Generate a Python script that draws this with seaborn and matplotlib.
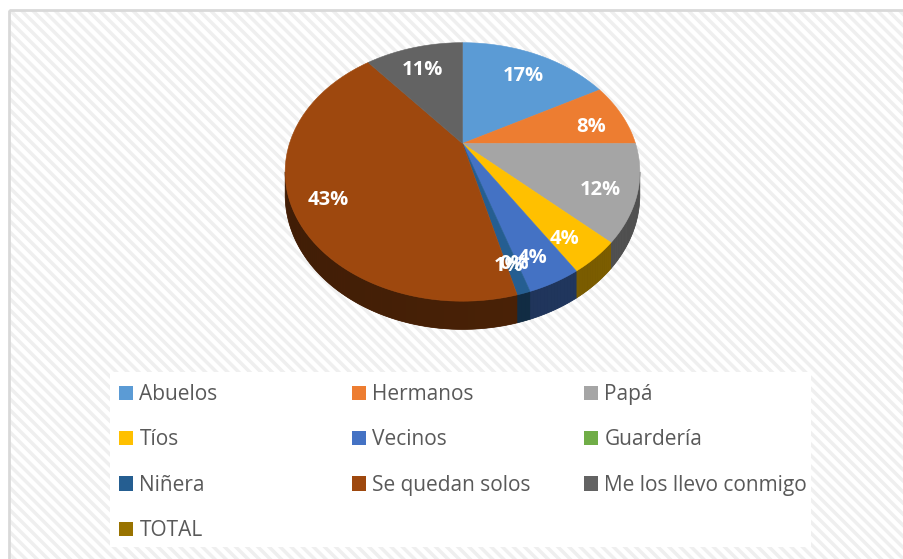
import numpy as np
import matplotlib
matplotlib.use("Agg")
import matplotlib.pyplot as plt
import matplotlib.colors as mcolors
from matplotlib.patches import Polygon, Rectangle, Patch
from matplotlib.collections import PolyCollection
import seaborn as sns

# data
categories = ["Abuelos", "Hermanos", "Papá", "Tíos", "Vecinos", "Guardería",
              "Niñera", "Se quedan solos", "Me los llevo conmigo", "TOTAL"]
percent = [17, 8, 12, 4, 4, 0, 1, 43, 11, 0]
show_label = [True, True, True, True, True, True, True, True, True, False]
colors = ["#5b9bd5", "#ed7d31", "#a5a5a5", "#ffc000", "#4472c4", "#70ad47",
          "#255e91", "#9e480e", "#636363", "#997300"]

sns.set_theme(style="white")
plt.rcParams['font.family'] = ['Open Sans', 'DejaVu Sans']
plt.rcParams['hatch.linewidth'] = 2.5

W, H = 904, 559
fig = plt.figure(figsize=(W / 100, H / 100), dpi=100, facecolor='white')
ax = fig.add_axes([0, 0, 1, 1])

# let matplotlib work out the slice angles, then redraw them in 3D
wedges, _ = ax.pie(percent, startangle=90, counterclock=False, colors=colors)
angles = [(w.theta1, w.theta2) for w in wedges]
for w in wedges:
    w.remove()

ax.set_aspect('auto')
ax.set_xlim(0, W)
ax.set_ylim(H, 0)
ax.axis('off')

# chart area: hatched background + light border
ax.add_patch(Rectangle((9, 10), W, H, facecolor='white', edgecolor='#efefef',
                       lw=0, hatch='\\\\\\', zorder=0))
ax.add_patch(Rectangle((9, 10), W, H, facecolor='none', edgecolor='#d9d9d9',
                       lw=2, zorder=1))
# white box behind the legend
ax.add_patch(Rectangle((110, 372), 701, 175, facecolor='white', lw=0, zorder=1))

# perspective projection of the unit disk
CX, CY = 462.5, 143.5
RX, RY, K, DEPTH = 173, 123, 0.22, 22
# front wall is visible where sin(theta) < -K
VIS_LO = -180 + np.degrees(np.arcsin(K))
VIS_HI = -np.degrees(np.arcsin(K))


def project(x, y, drop=0.0):
    f = 1.0 / (1 + K * y)
    return CX + RX * x * f, CY - RY * y * f + drop * f


def darker(c, k):
    r, g, b = mcolors.to_rgb(c)
    return (r * k, g * k, b * k)


# side walls: a solid strip per slice, with a light gradient on top
quads, qcols = [], []
for (t1, t2), c in zip(angles, colors):
    a1, a2 = max(t1, VIS_LO), min(t2, VIS_HI)
    if a2 - a1 <= 0:
        continue
    ts = np.radians(np.linspace(a1, a2, max(int(a2 - a1), 2) + 1))
    top = [project(np.cos(t), np.sin(t)) for t in ts]
    bot = [project(np.cos(t), np.sin(t), drop=DEPTH) for t in ts[::-1]]
    ax.add_patch(Polygon(top + bot, closed=True, facecolor=darker(c, 0.46),
                         edgecolor=darker(c, 0.46), lw=0.5, zorder=2))
    for a, b in zip(ts[:-1], ts[1:]):
        pa, pb = (np.cos(a), np.sin(a)), (np.cos(b), np.sin(b))
        quads.append([project(*pa), project(*pb),
                      project(*pb, drop=DEPTH), project(*pa, drop=DEPTH)])
        qcols.append(darker(c, 0.45 + 0.05 * np.cos((a + b) / 2)))
ax.add_collection(PolyCollection(quads, facecolors=qcols, edgecolors='none',
                                 zorder=2.5))

# top faces
for (t1, t2), c in zip(angles, colors):
    if t2 - t1 <= 0:
        continue
    ts = np.radians(np.linspace(t1, t2, max(int(t2 - t1), 2) + 1))
    pts = [project(0, 0)] + [project(np.cos(t), np.sin(t)) for t in ts]
    ax.add_patch(Polygon(pts, closed=True, facecolor=c, edgecolor=c,
                         lw=0.4, zorder=3))

# percentage labels
for (t1, t2), p, show in zip(angles, percent, show_label):
    if not show:
        continue
    mid = np.radians((t1 + t2) / 2)
    x, y = project(0.8 * np.cos(mid), 0.8 * np.sin(mid), drop=7)
    ax.text(x, y, f"{p}%", color='white', fontsize=14.5, fontweight='bold',
            ha='center', va='center', zorder=5)

# legend laid out row by row in three columns
handles = [Patch(facecolor=c, edgecolor='none') for c in colors]
col_x = [119, 352, 584]
for j, x0 in enumerate(col_x):
    idx = list(range(j, len(categories), 3))
    fig.legend([handles[i] for i in idx], [categories[i] for i in idx],
               loc='upper left', bbox_to_anchor=(x0 / W, 1 - 384 / H),
               frameon=False, fontsize=15, labelcolor='#595959',
               handlelength=0.68, handleheight=0.68, handletextpad=0.3,
               labelspacing=1.17, borderpad=0, borderaxespad=0)

fig.savefig("out.png", dpi=100, facecolor='white')
